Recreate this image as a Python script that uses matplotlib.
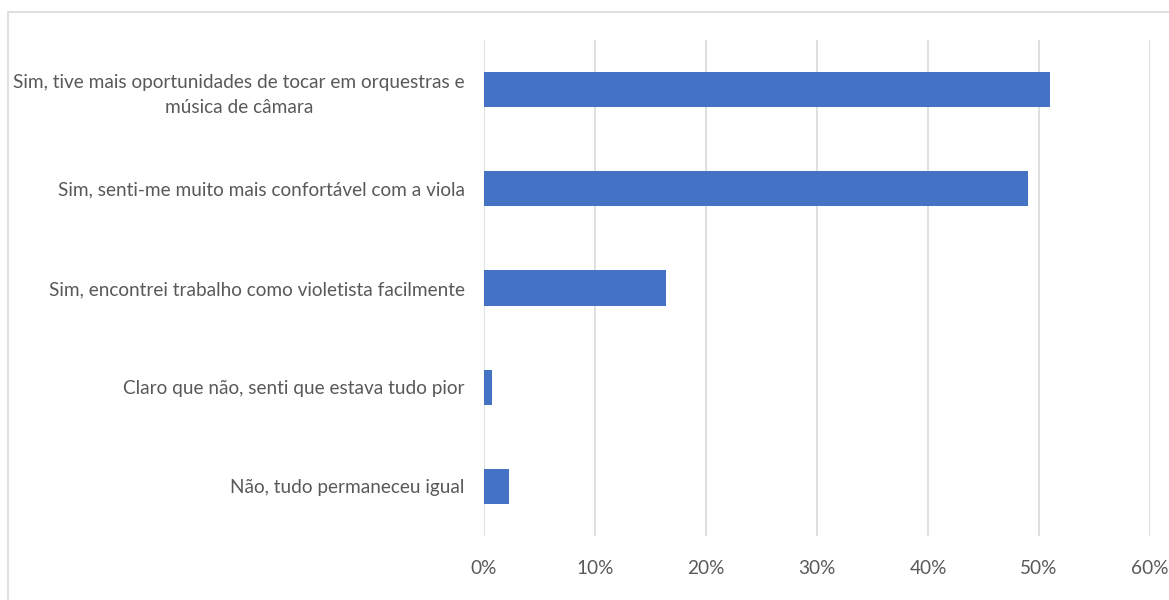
import matplotlib
matplotlib.use("Agg")
import matplotlib.pyplot as plt
from matplotlib.patches import Rectangle
from matplotlib.ticker import FuncFormatter

# data
categories = [
    "Sim, tive mais oportunidades de tocar em orquestras e\nmúsica de câmara",
    "Sim, senti-me muito mais confortável com a viola",
    "Sim, encontrei trabalho como violetista facilmente",
    "Claro que não, senti que estava tudo pior",
    "Não, tudo permaneceu igual",
]
values = [0.51, 0.49, 0.164, 0.007, 0.023]
x_ticks = [0, 0.1, 0.2, 0.3, 0.4, 0.5, 0.6]

BAR_COLOR = "#4472C4"
TEXT_COLOR = "#595959"
GRID_COLOR = "#d9d9d9"
FONT = ["Lato", "DejaVu Sans"]

fig = plt.figure(figsize=(11.69, 6.0), dpi=100)
ax = fig.add_axes([0.414, 0.1067, 0.5697, 0.8266])

# outer chart frame
fig.patches.append(Rectangle((8 / 1169, -0.1), 1.2, 1 - 12 / 600 + 0.1,
                             transform=fig.transFigure, fill=False,
                             edgecolor=GRID_COLOR, linewidth=1.2))

ypos = list(range(len(categories)))
ax.barh(ypos, values, height=0.355, color=BAR_COLOR, zorder=3)
ax.set_ylim(len(categories) - 0.5, -0.5)
ax.set_xlim(0, 0.6)

ax.set_xticks(x_ticks)
ax.xaxis.set_major_formatter(FuncFormatter(lambda v, p: f"{v * 100:.0f}%"))
ax.set_yticks(ypos)
ax.set_yticklabels(categories, multialignment="center", linespacing=1.55)

for lbl in ax.get_xticklabels() + ax.get_yticklabels():
    lbl.set_family(FONT)
    lbl.set_fontsize(13.7)
    lbl.set_color(TEXT_COLOR)

ax.tick_params(axis="both", length=0)
ax.tick_params(axis="y", pad=14)
ax.tick_params(axis="x", pad=17)
ax.grid(axis="x", color=GRID_COLOR, linewidth=1.2, zorder=0)
for s in ax.spines.values():
    s.set_visible(False)

fig.savefig("out.png", dpi=100, facecolor="white")
